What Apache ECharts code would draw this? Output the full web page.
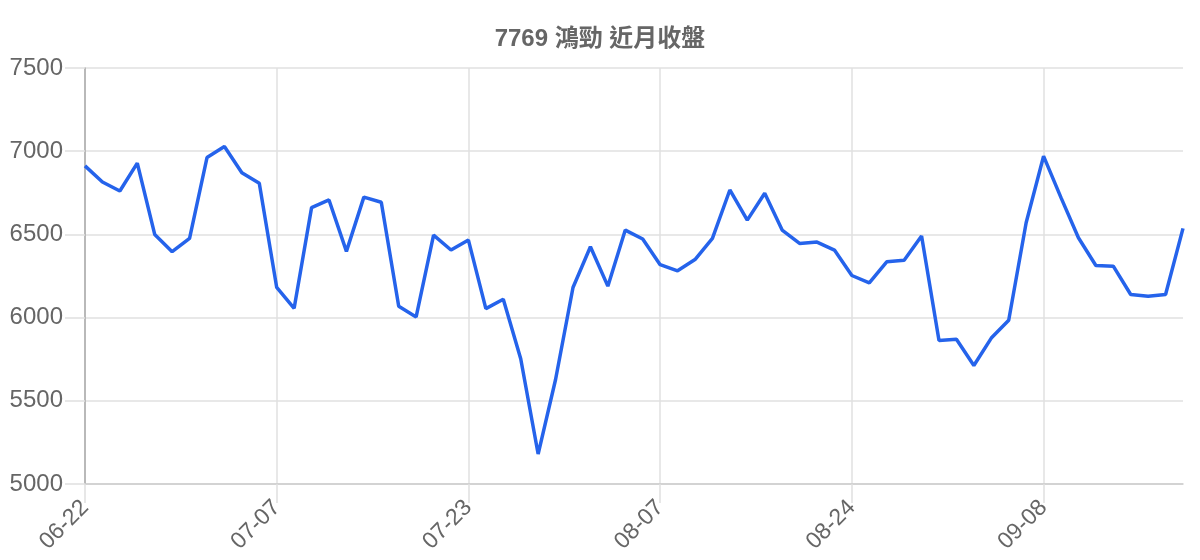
<!DOCTYPE html>
<html>
<head>
<meta charset="utf-8">
<script src="https://cdn.jsdelivr.net/npm/echarts@6/dist/echarts.min.js"></script>
<style>
html,body{margin:0;padding:0;background:#fff;}
#chart{width:1200px;height:560px;}
</style>
</head>
<body>
<div id="chart"></div>
<script>
var titleText = '7769 鴻勁 近月收盤';
var dates = [
  '06-22','06-23','06-24','06-25','06-26','06-29','06-30','07-01','07-02','07-03','07-06',
  '07-07','07-08','07-09','07-10','07-13','07-14','07-15','07-16','07-17','07-20','07-21',
  '07-23','07-24','07-27','07-28','07-29','07-30','07-31','08-03','08-04','08-05','08-06',
  '08-07','08-10','08-11','08-12','08-13','08-14','08-17','08-18','08-19','08-20','08-21',
  '08-24','08-25','08-26','08-27','08-28','08-31','09-01','09-02','09-03','09-04','09-07',
  '09-08','09-09','09-10','09-11','09-14','09-15','09-16','09-17','09-18'
];
var closes = [
  6912, 6815, 6761, 6928, 6500, 6396, 6476, 6962, 7028, 6871, 6807,
  6181, 6056, 6661, 6707, 6398, 6724, 6693, 6068, 6004, 6496, 6406,
  6466, 6054, 6110, 5753, 5180, 5628, 6181, 6426, 6189, 6526, 6472,
  6318, 6281, 6349, 6476, 6767, 6586, 6747, 6526, 6446, 6454, 6406,
  6253, 6209, 6335, 6345, 6490, 5862, 5870, 5712, 5877, 5984, 6570,
  6970, 6721, 6480, 6313, 6309, 6139, 6129, 6139, 6536
];
var yTicks = { min: 5000, max: 7500, step: 500 };
var labelEvery = 11;

var chart = echarts.init(document.getElementById('chart'));
chart.setOption({
  animation: false,
  backgroundColor: '#ffffff',
  title: {
    text: titleText,
    left: 'center',
    top: 22,
    textStyle: { color: '#666666', fontSize: 24, fontWeight: 'bold', fontFamily: 'Liberation Sans, Arial, "Noto Sans CJK TC", sans-serif' }
  },
  grid: { left: 85, right: 17, top: 68, bottom: 76, containLabel: false },
  xAxis: {
    type: 'category',
    data: dates,
    boundaryGap: false,
    axisLine: { show: true, lineStyle: { color: '#cccccc', width: 1.5 } },
    axisTick: { show: true, interval: labelEvery - 1, length: 19, lineStyle: { color: '#e0e0e0', width: 1.5 } },
    axisLabel: {
      interval: labelEvery - 1,
      rotate: 45,
      margin: 20,
      color: '#666666',
      fontSize: 23,
      fontFamily: 'Liberation Sans, Arial, sans-serif'
    },
    splitLine: { show: true, interval: labelEvery - 1, lineStyle: { color: '#e0e0e0', width: 1.5 } }
  },
  yAxis: {
    type: 'value',
    min: yTicks.min,
    max: yTicks.max,
    interval: yTicks.step,
    axisLine: { show: true, lineStyle: { color: '#aaaaaa', width: 1.5 } },
    axisTick: { show: true, length: 20, lineStyle: { color: '#e0e0e0', width: 1.5 } },
    axisLabel: {
      margin: 22,
      color: '#666666',
      fontSize: 24,
      fontFamily: 'Liberation Sans, Arial, sans-serif',
      formatter: function (v) { return String(v); }
    },
    splitLine: { show: true, lineStyle: { color: '#e0e0e0', width: 1.5 } }
  },
  series: [{
    type: 'line',
    data: closes,
    symbol: 'none',
    smooth: false,
    lineStyle: { color: '#2563eb', width: 3.5 },
    itemStyle: { color: '#2563eb' }
  }]
});
</script>
</body>
</html>
